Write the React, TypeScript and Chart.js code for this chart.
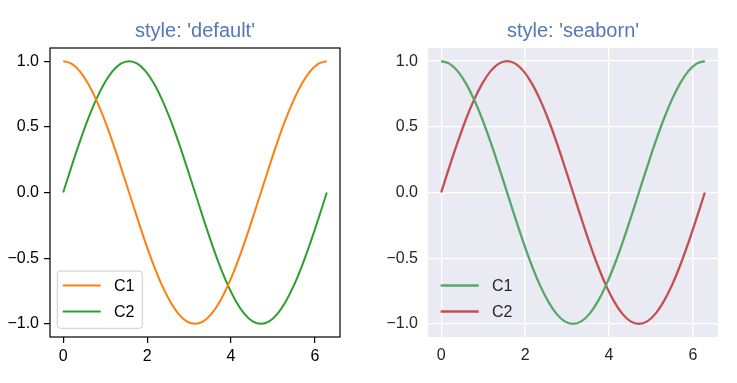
import React, { useEffect, useRef } from "react";
import { Chart, registerables } from "chart.js";

Chart.register(...registerables);

const xValues = [0, 0.196, 0.393, 0.589, 0.785, 0.982, 1.178, 1.374, 1.571, 1.767, 1.963, 2.16, 2.356, 2.553, 2.749, 2.945, 3.142, 3.338, 3.534, 3.731, 3.927, 4.123, 4.32, 4.516, 4.712, 4.909, 5.105, 5.301, 5.498, 5.694, 5.89, 6.087, 6.283];
const c1Values = [1.0, 0.981, 0.924, 0.831, 0.707, 0.556, 0.383, 0.195, 0.0, -0.195, -0.383, -0.556, -0.707, -0.831, -0.924, -0.981, -1.0, -0.981, -0.924, -0.831, -0.707, -0.556, -0.383, -0.195, 0.0, 0.195, 0.383, 0.556, 0.707, 0.831, 0.924, 0.981, 1.0];
const c2Values = [0.0, 0.195, 0.383, 0.556, 0.707, 0.831, 0.924, 0.981, 1.0, 0.981, 0.924, 0.831, 0.707, 0.556, 0.383, 0.195, 0.0, -0.195, -0.383, -0.556, -0.707, -0.831, -0.924, -0.981, -1.0, -0.981, -0.924, -0.831, -0.707, -0.556, -0.383, -0.195, 0.0];
const seriesLabels = ["C1", "C2"];
const xTicks = [0, 2, 4, 6];
const yTicks = [-1.0, -0.5, 0.0, 0.5, 1.0];
const titles = ["style: 'default'", "style: 'seaborn'"];

const FONT = "'Liberation Sans', Arial, sans-serif";

type Style = {
  title: string;
  colors: string[];
  lineWidth: number;
  textColor: string;
  seaborn: boolean;
  yWidth: number;
  padRight: number;
};

function makeChart(canvas: HTMLCanvasElement, st: Style) {
  const datasets = [c1Values, c2Values].map((vals, k) => ({
    label: seriesLabels[k],
    data: xValues.map((x, i) => ({ x, y: vals[i] })),
    borderColor: st.colors[k],
    backgroundColor: st.colors[k],
    borderWidth: st.lineWidth,
    pointRadius: 0,
    fill: false,
    tension: 0.4,
  }));

  const deco = {
    id: "deco",
    beforeDraw(chart: any) {
      const { ctx, chartArea: a } = chart;
      if (st.seaborn) {
        ctx.save();
        ctx.fillStyle = "#eaeaf2";
        ctx.fillRect(a.left, a.top, a.right - a.left, a.bottom - a.top);
        ctx.restore();
      }
    },
    afterDraw(chart: any) {
      const { ctx, chartArea: a } = chart;
      ctx.save();
      if (!st.seaborn) {
        ctx.strokeStyle = "#000";
        ctx.lineWidth = 1.2;
        ctx.strokeRect(a.left, a.top, a.right - a.left, a.bottom - a.top);
      }
      // title
      ctx.fillStyle = "#5577b6";
      ctx.font = `20px ${FONT}`;
      ctx.textAlign = "center";
      ctx.textBaseline = "alphabetic";
      ctx.fillText(st.title, (a.left + a.right) / 2, 37);
      // legend
      if (!st.seaborn) {
        const x0 = a.left + 7.3, y0 = a.bottom - 66, w = 85, h = 57.3, r = 3;
        ctx.beginPath();
        ctx.roundRect(x0, y0, w, h, r);
        ctx.fillStyle = "rgba(255,255,255,0.8)";
        ctx.fill();
        ctx.strokeStyle = "#cccccc";
        ctx.lineWidth = 1;
        ctx.stroke();
      }
      const rows = [a.bottom - 51.5, a.bottom - 25.5];
      chart.data.datasets.forEach((ds: any, k: number) => {
        const y = rows[k];
        ctx.strokeStyle = ds.borderColor;
        ctx.lineWidth = st.lineWidth;
        ctx.beginPath();
        ctx.moveTo(a.left + 12.7, y);
        ctx.lineTo(a.left + 50.7, y);
        ctx.stroke();
        ctx.fillStyle = st.textColor;
        ctx.font = `16px ${FONT}`;
        ctx.textAlign = "left";
        ctx.textBaseline = "middle";
        ctx.fillText(ds.label, a.left + 64, y + 1);
      });
      ctx.restore();
    },
  };

  const tickFont = { family: FONT, size: 16 };

  return new Chart(canvas, {
    type: "line",
    data: { datasets },
    options: {
      responsive: false,
      animation: false,
      devicePixelRatio: 1,
      layout: { padding: { left: 0, right: st.padRight, top: 48, bottom: 0 } },
      plugins: { legend: { display: false }, title: { display: false }, tooltip: { enabled: false } },
      scales: {
        x: {
          type: "linear",
          min: -0.314,
          max: 6.597,
          afterBuildTicks: (s: any) => {
            s.ticks = xTicks.map((v) => ({ value: v }));
          },
          afterFit: (s: any) => {
            s.height = 46;
          },
          ticks: {
            font: tickFont,
            color: st.textColor,
            padding: st.seaborn ? 9 : 4,
            maxRotation: 0,
            autoSkip: false,
            callback: (v: any) => String(v),
          },
          grid: st.seaborn
            ? { color: "#ffffff", lineWidth: 1.3, drawTicks: false, drawOnChartArea: true }
            : { color: "#000000", lineWidth: 1.2, drawTicks: true, tickLength: 6, drawOnChartArea: false },
          border: { display: false },
        },
        y: {
          type: "linear",
          min: -1.1,
          max: 1.1,
          afterBuildTicks: (s: any) => {
            s.ticks = yTicks.map((v) => ({ value: v }));
          },
          afterFit: (s: any) => {
            s.width = st.yWidth;
          },
          ticks: {
            font: tickFont,
            color: st.textColor,
            padding: st.seaborn ? 10 : 5,
            autoSkip: false,
            callback: (v: any) => Number(v).toFixed(1).replace("-", "\u2212"),
          },
          grid: st.seaborn
            ? { color: "#ffffff", lineWidth: 1.3, drawTicks: false, drawOnChartArea: true }
            : { color: "#000000", lineWidth: 1.2, drawTicks: true, tickLength: 6, drawOnChartArea: false },
          border: { display: false },
        },
      },
    } as any,
    plugins: [deco],
  });
}

function Panel({ st, left, width }: { st: Style; left: number; width: number }) {
  const ref = useRef<HTMLCanvasElement>(null);
  useEffect(() => {
    if (!ref.current) return;
    const c = makeChart(ref.current, st);
    return () => c.destroy();
  }, []);
  return (
    <canvas
      ref={ref}
      width={width}
      height={383}
      style={{ position: "absolute", left, top: 0, width, height: 383 }}
    />
  );
}

export default function App() {
  const left: Style = {
    title: titles[0],
    colors: ["#ff7f0e", "#2ca02c"],
    lineWidth: 2,
    textColor: "#000000",
    seaborn: false,
    yWidth: 50,
    padRight: 28,
  };
  const right: Style = {
    title: titles[1],
    colors: ["#55a868", "#c44e52"],
    lineWidth: 2.3,
    textColor: "#262626",
    seaborn: true,
    yWidth: 60,
    padRight: 19,
  };
  return (
    <div style={{ position: "fixed", left: 0, top: 0, width: 737, height: 383, background: "#fff" }}>
      <Panel st={left} left={0} width={368} />
      <Panel st={right} left={368} width={369} />
    </div>
  );
}
